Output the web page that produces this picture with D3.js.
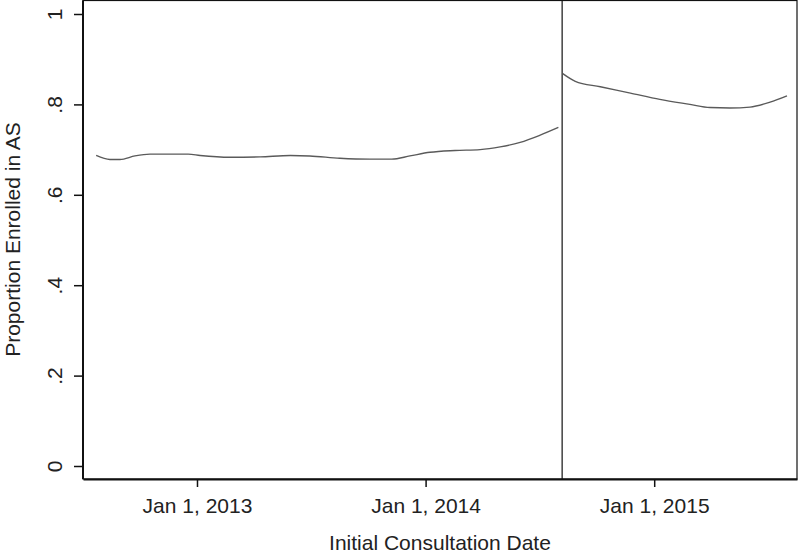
<!DOCTYPE html>
<html>
<head>
<meta charset="utf-8">
<script src="https://cdn.jsdelivr.net/npm/d3@7"></script>
<style>
  html, body { margin: 0; padding: 0; background: #fff; }
  svg { display: block; }
  text { font-family: "Liberation Sans", Arial, sans-serif; fill: #222; }
</style>
</head>
<body>
<svg id="chart" width="800" height="556"></svg>
<script>
// ---- data ----
const preDates = ["2012-07-24","2012-08-15","2012-08-31","2012-09-24","2012-10-18","2012-12-18",
  "2013-01-06","2013-02-23","2013-04-12","2013-05-30","2013-06-30","2013-08-17","2013-10-04",
  "2013-11-08","2013-12-07","2014-01-08","2014-02-17","2014-03-29","2014-04-30","2014-06-01",
  "2014-07-03","2014-08-01"];
const preValues = [0.687,0.678,0.678,0.686,0.690,0.690,
  0.687,0.683,0.684,0.687,0.686,0.681,0.679,
  0.679,0.686,0.694,0.698,0.700,0.706,0.716,
  0.732,0.749];
const postDates = ["2014-08-08","2014-08-28","2014-10-07","2014-11-24","2015-01-10","2015-02-27",
  "2015-03-31","2015-05-02","2015-06-03","2015-07-05","2015-08-01"];
const postValues = [0.868,0.851,0.839,0.825,0.811,0.800,0.793,0.792,0.794,0.805,0.819];
const cutoffDate = "2014-08-07";
const xDomain = ["2012-07-03","2015-08-17"];
const xTickDates = ["2013-01-01","2014-01-01","2015-01-01"];
const xTickLabels = ["Jan 1, 2013","Jan 1, 2014","Jan 1, 2015"];
const yTicks = [0,0.2,0.4,0.6,0.8,1];
const yTickLabels = ["0",".2",".4",".6",".8","1"];
const xTitle = "Initial Consultation Date";
const yTitle = "Proportion Enrolled in AS";

// ---- layout ----
const parse = d3.utcParse("%Y-%m-%d");
const svg = d3.select("#chart");
const L = 83, R = 797, T = 0.5, B = 479;

const x = d3.scaleUtc().domain(xDomain.map(parse)).range([L, R]);
const y = d3.scaleLinear().domain([0, 1]).range([466, 14]);

const pre = preDates.map((d, i) => ({ date: parse(d), v: preValues[i] }));
const post = postDates.map((d, i) => ({ date: parse(d), v: postValues[i] }));

// frame
svg.append("rect").attr("x", L).attr("y", T).attr("width", R - L).attr("height", B - T)
  .attr("fill", "none").attr("stroke", "#111").attr("stroke-width", 1.2);

// y axis
const yAxis = d3.axisLeft(y).tickValues(yTicks).tickSize(9).tickSizeOuter(0).tickPadding(0)
  .tickFormat((d, i) => yTickLabels[i]);
const gy = svg.append("g").attr("transform", `translate(${L},0)`).call(yAxis);
gy.select(".domain").remove();
gy.selectAll(".tick line").attr("stroke", "#111").attr("stroke-width", 1.5);
gy.selectAll(".tick text")
  .attr("x", null).attr("dy", null)
  .attr("transform", "translate(-21,0) rotate(-90)")
  .attr("text-anchor", "middle")
  .style("font-size", "21px").style("font-family", "'Liberation Sans', Arial, sans-serif")
  .attr("fill", "#222");
svg.append("line").attr("x1", L).attr("x2", L).attr("y1", T).attr("y2", B)
  .attr("stroke", "#111").attr("stroke-width", 2);

// x axis
const xAxis = d3.axisBottom(x).tickValues(xTickDates.map(parse)).tickSize(8).tickSizeOuter(0).tickPadding(0)
  .tickFormat((d, i) => xTickLabels[i]);
const gx = svg.append("g").attr("transform", `translate(0,${B})`).call(xAxis);
gx.select(".domain").attr("stroke", "#111").attr("stroke-width", 2);
gx.selectAll(".tick line").attr("stroke", "#111").attr("stroke-width", 1.5);
gx.selectAll(".tick text")
  .attr("y", 34).attr("dy", null)
  .style("font-size", "21px").style("font-family", "'Liberation Sans', Arial, sans-serif")
  .attr("fill", "#222");

// cutoff vertical line
svg.append("line")
  .attr("x1", x(parse(cutoffDate))).attr("x2", x(parse(cutoffDate)))
  .attr("y1", T).attr("y2", B)
  .attr("stroke", "#111").attr("stroke-width", 1.2);

// lines
const line = d3.line().x(d => x(d.date)).y(d => y(d.v)).curve(d3.curveMonotoneX);
[pre, post].forEach(seg => {
  svg.append("path").datum(seg).attr("d", line)
    .attr("fill", "none").attr("stroke", "#5a5a5a").attr("stroke-width", 1.4);
});

// titles
svg.append("text").attr("x", (L + R) / 2).attr("y", 550)
  .attr("text-anchor", "middle").style("font-size", "21px").text(xTitle);
svg.append("text").attr("transform", `translate(20,${(0 + B) / 2}) rotate(-90)`)
  .attr("text-anchor", "middle").style("font-size", "21px").text(yTitle);
</script>
</body>
</html>
